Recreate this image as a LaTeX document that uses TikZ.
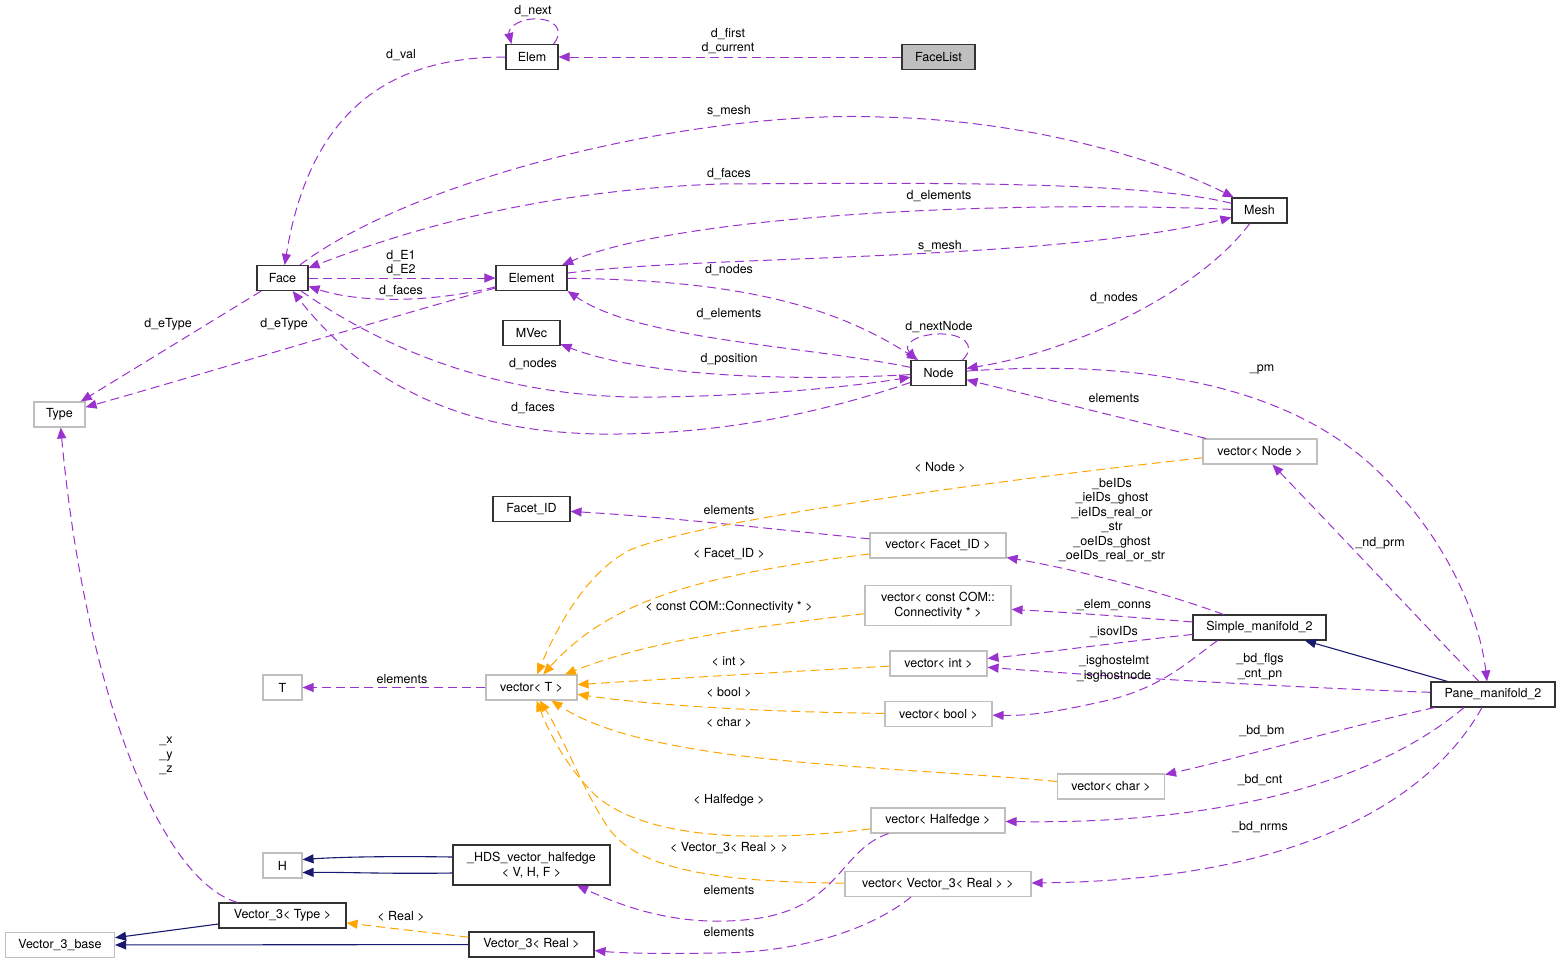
\documentclass[tikz,border=0pt]{standalone}
\usepackage{fontspec}
\setmainfont{TeX Gyre Heros}
\usetikzlibrary{arrows.meta,calc}
\definecolor{usecol}{HTML}{9A32CD}
\definecolor{tplcol}{HTML}{FFA500}
\definecolor{inhcol}{HTML}{191970}
\definecolor{extcol}{HTML}{BFBFBF}

\begin{document}
\begin{tikzpicture}[x=1pt,y=-1pt,>={Triangle[length=11pt,width=9pt]},
    font=\fontsize{12.5}{14.5}\selectfont]
    \tikzstyle{cls}=[draw=black!80, line width=1.1pt, fill=white, align=center, inner sep=2pt, minimum height=25pt]
    \tikzstyle{ext}=[cls, draw=extcol]
    \tikzstyle{lbl}=[align=center, inner sep=0pt]
    \tikzstyle{use}=[->, usecol, line width=1pt, dash pattern=on 9pt off 5pt]
    \tikzstyle{tpl}=[use, tplcol]
    \tikzstyle{inh}=[->, inhcol, line width=1.1pt]

    \useasboundingbox (0,0) rectangle (1557,964);

    \node[cls, minimum width=52pt] (elem) at (532,57) {Elem};
    \node[cls, minimum width=73pt, fill=extcol] (facelist) at (938.5,57) {FaceList};
    \node[cls, minimum width=51pt] (face) at (282.5,278) {Face};
    \node[cls, minimum width=71pt] (element) at (531.5,278) {Element};
    \node[cls, minimum width=55pt] (mesh) at (1259.5,210.5) {Mesh};
    \node[cls, minimum width=57pt] (mvec) at (531.5,333) {MVec};
    \node[cls, minimum width=55pt] (node) at (938.5,373) {Node};
    \node[ext, minimum width=51pt] (type) at (59.5,414.5) {Type};
    \node[cls, minimum width=77pt] (facetid) at (531.5,509) {Facet\_ID};
    \node[ext, minimum width=114pt] (vnode) at (1260,451.5) {vector< Node >};
    \node[ext, minimum width=136pt] (vfacet) at (938,545.5) {vector< Facet\_ID >};
    \node[ext, minimum width=146pt, minimum height=40pt] (vconn) at (938,605.5) {vector< const COM::\\Connectivity * >};
    \node[cls, minimum width=133pt] (simple) at (1259.5,627.5) {Simple\_manifold\_2};
    \node[ext, minimum width=39pt] (tnode) at (282.5,687.5) {T};
    \node[ext, minimum width=91pt] (vt) at (531.5,687.5) {vector< T >};
    \node[ext, minimum width=97pt] (vint) at (938.5,663.5) {vector< int >};
    \node[ext, minimum width=107pt] (vbool) at (938.5,714) {vector< bool >};
    \node[cls, minimum width=124pt] (pane) at (1493,694.5) {Pane\_manifold\_2};
    \node[ext, minimum width=107pt] (vchar) at (1111,786.5) {vector< char >};
    \node[ext, minimum width=134pt] (vhalf) at (938,820.5) {vector< Halfedge >};
    \node[ext, minimum width=39pt] (hnode) at (282.5,865.5) {H};
    \node[cls, minimum width=157pt, minimum height=40pt] (hds) at (531.5,865) {\_HDS\_vector\_halfedge\\< V, H, F >};
    \node[ext, minimum width=186pt] (vvr) at (938,884) {vector< Vector\_3< Real > >};
    \node[cls, minimum width=127pt] (v3type) at (282.5,915.5) {Vector\_3< Type >};
    \node[ext, minimum width=109pt] (v3base) at (60,945) {Vector\_3\_base};
    \node[cls, minimum width=125pt] (v3real) at (531.5,944.5) {Vector\_3< Real >};

    \draw[use] ($(elem.north east)+(-5,0)$) .. controls (565,30) and (555,18) .. (533,19) .. controls (515,20) and (508,30) .. ($(elem.north west)+(6,0)$);
    \draw[use] (facelist) -- (elem);
    \draw[use] (elem) .. controls (390,57) and (310,110) .. (face);
    \draw[use] (face) .. controls (420,175) and (700,110) .. (880,117) .. controls (1030,120) and (1160,160) .. (mesh);
    \draw[use] (mesh) .. controls (1140,180) and (900,183) .. (720,184) .. controls (550,190) and (420,225) .. (face);
    \draw[use] (mesh) .. controls (1000,200) and (680,215) .. (element);
    \draw[use] (element) .. controls (700,255) and (1050,262) .. (mesh);
    \draw[use] (face) -- (element);
    \draw[use] (element) .. controls (430,303) and (360,303) .. (face);
    \draw[use] (element) .. controls (750,280) and (840,310) .. (node);
    \draw[use] (node) .. controls (800,345) and (640,340) .. (element.south east);
    \draw[use] ($(node.north east)+(-4,0)$) .. controls (978,345) and (962,333) .. (938,334) .. controls (914,335) and (903,345) .. ($(node.north west)+(6,0)$);
    \draw[use] (node) .. controls (780,382) and (640,375) .. (mvec);
    \draw[use] (face) .. controls (400,360) and (520,400) .. (660,397) .. controls (780,395) and (860,385) .. (node);
    \draw[use] (node) .. controls (800,420) and (700,435) .. (600,434) .. controls (470,432) and (370,390) .. (face);
    \draw[use] (face) -- (type);
    \draw[use] (element) .. controls (380,320) and (200,375) .. (type);
    \draw[use] (mesh) .. controls (1200,290) and (1080,350) .. (node);
    \draw[use] (node) .. controls (1200,355) and (1330,410) .. (1400,495) .. controls (1450,550) and (1480,620) .. ($(pane.north)+(-6,0)$);
    \draw[use] ($(pane.north)+(-14,0)$) .. controls (1420,620) and (1340,535) .. (vnode);
    \draw[use] (vnode) .. controls (1130,420) and (1050,400) .. (node);
    \draw[use] (vfacet) .. controls (780,530) and (680,518) .. (facetid);
    \draw[use] (vt) -- (tnode);

    \draw[tpl] (vnode) .. controls (1000,480) and (700,520) .. (630,550) .. controls (590,570) and (560,620) .. (vt);
    \draw[tpl] (vfacet) .. controls (700,575) and (610,600) .. (vt);
    \draw[tpl] (vconn) .. controls (720,630) and (640,645) .. (vt);
    \draw[tpl] (vint) .. controls (780,672) and (650,680) .. (vt);
    \draw[tpl] (vbool) .. controls (760,712) and (650,705) .. (vt);
    \draw[tpl] (vchar) .. controls (880,765) and (650,765) .. (vt);
    \draw[tpl] (vhalf) .. controls (740,845) and (640,835) .. (595,795) .. controls (570,770) and (552,740) .. (vt);
    \draw[tpl] (vvr) .. controls (720,882) and (640,870) .. (610,830) .. controls (585,795) and (565,740) .. (vt);

    \draw[use] (simple) .. controls (1170,595) and (1090,572) .. (vfacet);
    \draw[use] (simple) .. controls (1120,616) and (1060,612) .. (vconn);
    \draw[use] (simple) .. controls (1120,642) and (1050,652) .. (vint);
    \draw[use] ($(simple.south)+(-42,0)$) .. controls (1190,660) and (1160,690) .. (1100,702) .. controls (1060,711) and (1030,716) .. (vbool);
    \draw[use] (pane) .. controls (1280,687) and (1100,676) .. (vint);
    \draw[inh] (pane) -- (simple);
    \draw[use] (pane) .. controls (1325,732) and (1240,758) .. (vchar);
    \draw[use] ($(pane.south)+(-29,0)$) .. controls (1390,770) and (1250,825) .. (vhalf);
    \draw[use] ($(pane.south)+(-11,0)$) .. controls (1430,800) and (1300,880) .. (vvr);
    \draw[use] ($(vhalf.south west)+(18,0)$) .. controls (840,850) and (840,905) .. (760,918) .. controls (680,930) and (620,905) .. (hds);
    \draw[use] ($(vvr.south)+(-27,0)$) .. controls (870,930) and (800,952) .. (720,953) .. controls (660,954) and (620,953) .. (v3real);

    \draw[inh] ($(hds.west)+(0,-8)$) .. controls (390,856) and (340,857) .. ($(hnode.east)+(0,-6)$);
    \draw[inh] ($(hds.west)+(0,8)$) .. controls (390,874) and (340,872) .. ($(hnode.east)+(0,7)$);
    \draw[inh] (v3type) -- (v3base);
    \draw[inh] (v3real) -- (v3base);
    \draw[tpl] (v3real) -- (v3type);
    \draw[use] (v3type) .. controls (160,880) and (85,690) .. (type);

    \node[lbl] (l-dnext) at (533,11) {d\_next};
    \node[lbl] (l-dfirst) at (728,41) {d\_first\\d\_current};
    \node[lbl] (l-dval) at (401,55) {d\_val};
    \node[lbl] (l-smesh1) at (729,111) {s\_mesh};
    \node[lbl] (l-dfaces1) at (729,174) {d\_faces};
    \node[lbl] (l-delem1) at (939,196) {d\_elements};
    \node[lbl] (l-smesh2) at (940,246) {s\_mesh};
    \node[lbl] (l-de) at (401,263) {d\_E1\\d\_E2};
    \node[lbl] (l-dfaces2) at (401,291) {d\_faces};
    \node[lbl] (l-dnodes1) at (729,270) {d\_nodes};
    \node[lbl] (l-delem2) at (729,314) {d\_elements};
    \node[lbl] (l-dnextnode) at (939,327) {d\_nextNode};
    \node[lbl] (l-dpos) at (729,359) {d\_position};
    \node[lbl] (l-dnodes2) at (533,364) {d\_nodes};
    \node[lbl] (l-dfaces3) at (533,408) {d\_faces};
    \node[lbl] (l-detype1) at (168,324) {d\_eType};
    \node[lbl] (l-detype2) at (284,324) {d\_eType};
    \node[lbl] (l-dnodes3) at (1114,298) {d\_nodes};
    \node[lbl] (l-pm) at (1262,369) {\_pm};
    \node[lbl] (l-elem1) at (1114,398) {elements};
    \node[lbl] (l-ndprm) at (1380,543) {\_nd\_prm};
    \node[lbl] (l-node) at (940,467) {< Node >};
    \node[lbl] (l-elem2) at (729,510) {elements};
    \node[lbl] (l-facet) at (729,554) {< Facet\_ID >};
    \node[lbl] (l-conn) at (729,607) {< const COM::Connectivity * >};
    \node[lbl] (l-int) at (729,662) {< int >};
    \node[lbl] (l-bool) at (729,692) {< bool >};
    \node[lbl] (l-char) at (729,722) {< char >};
    \node[lbl] (l-half) at (729,800) {< Halfedge >};
    \node[lbl] (l-v3r) at (729,848) {< Vector\_3< Real > >};
    \node[lbl] (l-elem3) at (402,679) {elements};
    \node[lbl] (l-ids) at (1112,520) {\_beIDs\\\_ieIDs\_ghost\\\_ieIDs\_real\_or\\\_str\\\_oeIDs\_ghost\\\_oeIDs\_real\_or\_str};
    \node[lbl] (l-conns) at (1114,605) {\_elem\_conns};
    \node[lbl] (l-isov) at (1114,632) {\_isovIDs};
    \node[lbl] (l-ghost) at (1114,669) {\_isghostelmt\\\_isghostnode};
    \node[lbl] (l-flgs) at (1260,667) {\_bd\_flgs\\\_cnt\_pn};
    \node[lbl] (l-bm) at (1262,731) {\_bd\_bm};
    \node[lbl] (l-cnt) at (1260,780) {\_bd\_cnt};
    \node[lbl] (l-nrms) at (1260,827) {\_bd\_nrms};
    \node[lbl] (l-elem4) at (729,890) {elements};
    \node[lbl] (l-elem5) at (729,932) {elements};
    \node[lbl] (l-real) at (401,916) {< Real >};
    \node[lbl] (l-xyz) at (166,756) {\_x\\\_y\\\_z};
\end{tikzpicture}
\end{document}
